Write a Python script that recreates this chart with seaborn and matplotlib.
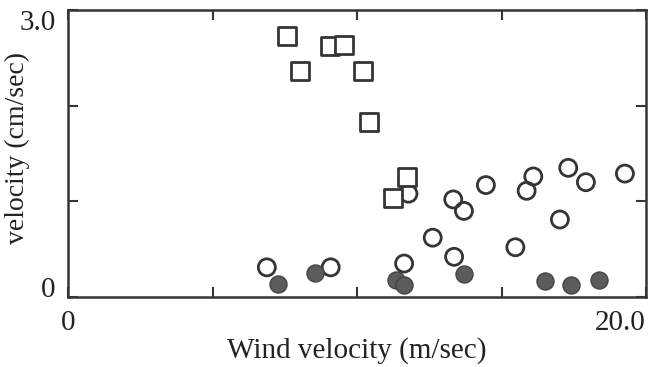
import numpy as np
import pandas as pd
import matplotlib
matplotlib.use("Agg")
import matplotlib.pyplot as plt
from matplotlib.markers import MarkerStyle
import seaborn as sns

# Values
square_wind = [7.58, 8.03, 9.07, 9.55, 10.20, 10.40, 11.72, 11.26]
square_vel = [2.73, 2.36, 2.62, 2.63, 2.36, 1.83, 1.25, 1.03]

open_wind = [6.88, 9.09, 11.63, 11.78, 12.62, 13.33, 13.70, 14.46, 13.36,
             15.48, 16.10, 15.87, 17.31, 17.92, 17.02, 19.27]
open_vel = [0.31, 0.31, 0.35, 1.08, 0.62, 1.02, 0.90, 1.17, 0.42,
            0.52, 1.26, 1.11, 1.35, 1.20, 0.81, 1.29]

filled_wind = [7.28, 8.55, 11.35, 11.63, 13.70, 16.52, 17.39, 18.38]
filled_vel = [0.14, 0.25, 0.18, 0.13, 0.24, 0.17, 0.125, 0.18]

x_ticks = [0, 5, 10, 15, 20]
x_tick_labels = ["0", "", "", "", "20.0"]
y_ticks = [0, 1, 2, 3]
y_tick_labels = ["0", "", "", "3.0"]

sns.set_style("white")
plt.rcParams['font.family'] = ['Liberation Serif', 'DejaVu Serif']

ink = "#353535"

df_sq = pd.DataFrame({"wind": square_wind, "vel": square_vel})
df_open = pd.DataFrame({"wind": open_wind, "vel": open_vel})
df_fill = pd.DataFrame({"wind": filled_wind, "vel": filled_vel})

fig = plt.figure(figsize=(6.52, 3.67), dpi=100)
ax = fig.add_axes([68 / 652, 1 - 297 / 367, 578 / 652, 287 / 367])

sns.scatterplot(data=df_open, x="wind", y="vel", ax=ax, s=150,
                marker="o", facecolor="none", edgecolor=ink, linewidth=2.0)
sns.scatterplot(data=df_fill, x="wind", y="vel", ax=ax, s=150,
                marker="o", color="#5c5c5c", edgecolor="#444444", linewidth=1.0)
sns.scatterplot(data=df_sq, x="wind", y="vel", ax=ax, s=170,
                marker=MarkerStyle("s", joinstyle="round"),
                facecolor="white", edgecolor=ink, linewidth=2.0)

ax.set_xlim(0, 20)
ax.set_ylim(0, 3)
ax.set_xticks(x_ticks)
ax.set_xticklabels(x_tick_labels, fontsize=21, color="#222222")
ax.set_yticks(y_ticks)
ax.set_yticklabels(y_tick_labels, fontsize=21, color="#222222")
ax.get_xticklabels()[-1].set_horizontalalignment("right")
ax.get_yticklabels()[0].set_verticalalignment("baseline")
ax.get_yticklabels()[-1].set_verticalalignment("top")

ax.tick_params(direction="in", length=7, width=1.5, color=ink,
               top=True, right=True, bottom=True, left=True)
ax.tick_params(axis="x", pad=9)
ax.tick_params(axis="y", pad=9)
for sp in ax.spines.values():
    sp.set_linewidth(1.8)
    sp.set_color(ink)
    sp.set_visible(True)

ax.set_xlabel("Wind velocity (m/sec)", fontsize=21, color="#222222", labelpad=1)
ax.set_ylabel("velocity (cm/sec)", fontsize=20, color="#222222")
ax.yaxis.set_label_coords(-0.066, 0.52)

fig.savefig("out.png", dpi=100)
